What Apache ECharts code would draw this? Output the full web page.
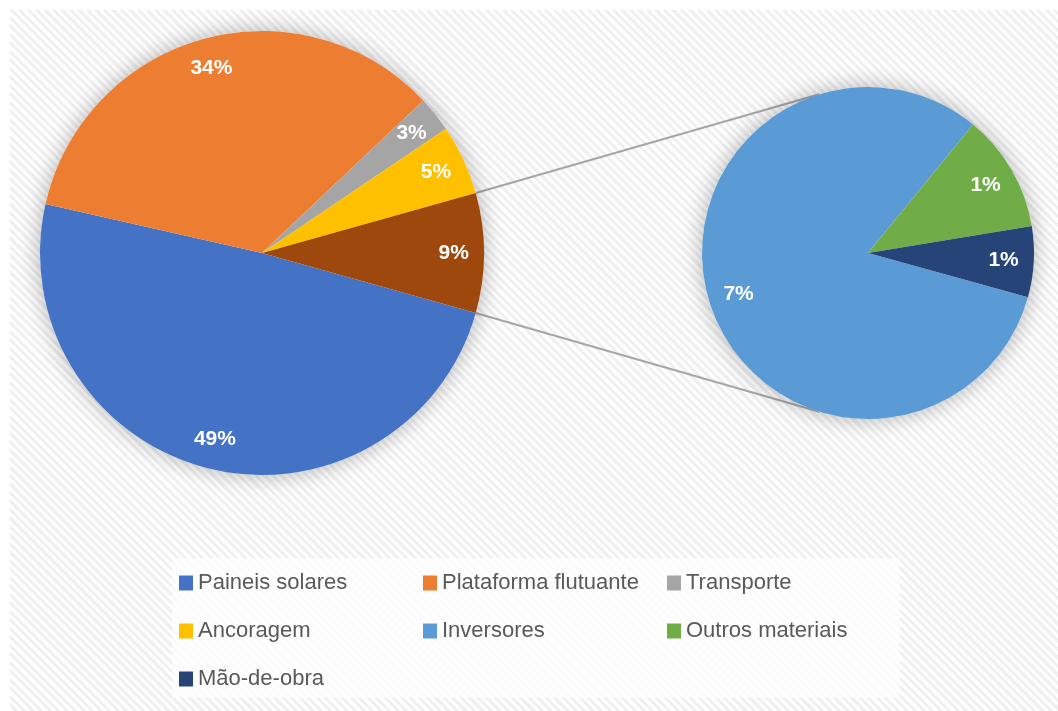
<!DOCTYPE html>
<html>
<head>
    <meta charset="UTF-8">
    <title></title>
    <style>
        html, body { margin: 0; padding: 0; background: #ffffff; }
        #hatch {
            position: absolute; left: 10px; top: 10px; right: 0; bottom: 0;
            background: repeating-linear-gradient(45deg, #ffffff 0px, #ffffff 3px, #f0f0f0 3px, #f0f0f0 6px);
        }
        #container { position: absolute; left: 0; top: 0; width: 1058px; height: 711px; }
    </style>
</head>
<body>
    <div id="hatch"></div>
    <div id="container"></div>
    <script src="https://cdn.jsdelivr.net/npm/echarts@6/dist/echarts.min.js"></script>
    <script>
        // valores em % do custo total
        var mainNames = ['Paineis solares', 'Plataforma flutuante', 'Transporte', 'Ancoragem'];
        var mainValues = [49.2, 34.4, 2.6, 5.1];
        var subNames = ['Inversores', 'Outros materiais', 'Mão-de-obra'];
        var subValues = [7.1, 1.0, 0.6];
        var mainColors = ['#4472C4', '#ED7D31', '#A5A5A5', '#FFC000'];
        var subColors = ['#5B9BD5', '#70AD47', '#264478'];
        var otherColor = '#9E480E';

        var otherValue = subValues.reduce(function (a, b) { return a + b; }, 0);

        // geometria
        var c1 = [262, 253], r1 = 222;
        var c2 = [868, 253], r2 = 166;
        var half = otherValue / 100 * 180;   // meio angulo da fatia "outros"
        var subAngle = 107;                  // ponto de ligacao no circulo secundario

        function rad(d) { return d * Math.PI / 180; }

        var mainData = mainNames.map(function (n, i) {
            return { name: n, value: mainValues[i], itemStyle: { color: mainColors[i] } };
        });
        mainData.push({ name: 'Outros', value: otherValue, itemStyle: { color: otherColor } });

        var subData = subNames.map(function (n, i) {
            return { name: n, value: subValues[i], itemStyle: { color: subColors[i] } };
        });

        var labelStyle = {
            show: true,
            position: 'inside',
            color: '#ffffff',
            fontFamily: 'Liberation Sans',
            fontSize: 21,
            fontWeight: 'bold',
            formatter: function (p) { return Math.round(p.value) + '%'; }
        };

        function backing(center, r) {
            return {
                type: 'pie', silent: true, z: 1,
                center: center, radius: r,
                label: { show: false },
                itemStyle: { color: '#ffffff', shadowBlur: 22, shadowColor: 'rgba(0,0,0,0.3)' },
                data: [1]
            };
        }

        function labels(center, r0, r, values, start) {
            return {
                type: 'pie', silent: true, z: 4,
                center: center, radius: [r0, r],
                startAngle: start, clockwise: true,
                itemStyle: { color: 'transparent' },
                label: labelStyle,
                labelLine: { show: false },
                data: values.slice()
            };
        }

        var lineStyle = { stroke: '#a6a6a6', lineWidth: 2 };
        var p1 = [c1[0] + r1 * Math.cos(rad(half)), c1[1] - r1 * Math.sin(rad(half))];
        var p2 = [c1[0] + r1 * Math.cos(rad(half)), c1[1] + r1 * Math.sin(rad(half))];
        var q1 = [c2[0] + r2 * Math.cos(rad(subAngle)), c2[1] - r2 * Math.sin(rad(subAngle))];
        var q2 = [c2[0] + r2 * Math.cos(rad(subAngle)), c2[1] + r2 * Math.sin(rad(subAngle))];

        var myChart = echarts.init(document.getElementById('container'));
        myChart.setOption({
            backgroundColor: 'transparent',
            animation: false,
            legend: {
                data: mainNames.concat(subNames),
                left: 172,
                top: 558,
                width: 730,
                padding: [10, 7, 4, 7],
                backgroundColor: 'rgba(255,255,255,0.75)',
                itemWidth: 14,
                itemHeight: 15,
                itemGap: 18,
                icon: 'rect',
                selectedMode: false,
                textStyle: {
                    color: '#595959',
                    fontFamily: 'Liberation Sans',
                    fontSize: 22,
                    width: 207,
                    overflow: 'none',
                    lineHeight: 30
                }
            },
            graphic: [
                { type: 'line', z: 0, shape: { x1: p1[0], y1: p1[1], x2: q1[0], y2: q1[1] }, style: lineStyle },
                { type: 'line', z: 0, shape: { x1: p2[0], y1: p2[1], x2: q2[0], y2: q2[1] }, style: lineStyle }
            ],
            series: [
                {
                    type: 'pie', z: 3,
                    center: c1, radius: r1,
                    startAngle: -half, clockwise: true,
                    label: { show: false },
                    labelLine: { show: false },
                    emphasis: { disabled: true },
                    data: mainData
                },
                {
                    type: 'pie', z: 3,
                    center: c2, radius: r2,
                    startAngle: -15.5, clockwise: true,
                    label: { show: false },
                    labelLine: { show: false },
                    emphasis: { disabled: true },
                    data: subData
                },
                backing(c1, r1),
                backing(c2, r2),
                labels(c1, r1 * 0.7, r1, mainValues.concat([otherValue]), -half),
                labels(c2, r2 * 0.6, r2, subValues, -15.5)
            ]
        });
    </script>
</body>
</html>
